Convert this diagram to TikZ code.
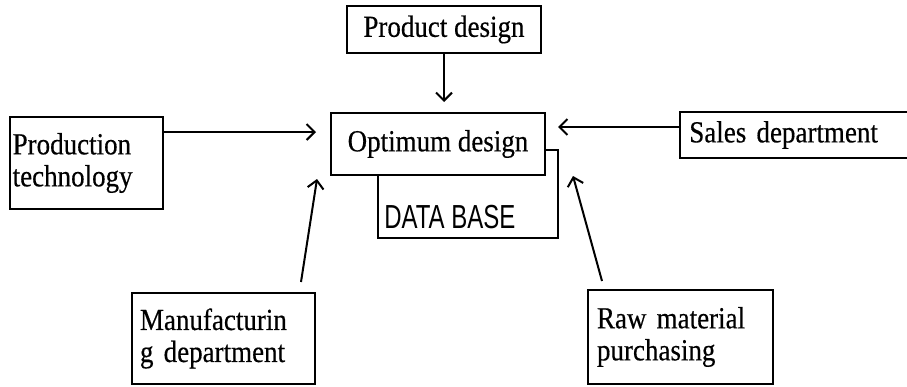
\documentclass[tikz,border=0pt]{standalone}
\usepackage{fontspec}
\setmainfont{Liberation Serif}[FakeStretch=0.88, FakeBold=0.4]
\newfontfamily\dbfont{Liberation Sans}[FakeStretch=0.72]
\usepackage{tikz}
\usetikzlibrary{arrows.meta, calc}
\tikzstyle{block} = [draw, rectangle, line width=1.5pt, inner xsep=5pt, inner ysep=2pt, align=left, font=\fontsize{23}{24}\selectfont]
\tikzstyle{dbbox} = [draw, rectangle, line width=1.5pt, minimum width=135pt, minimum height=66pt]
\tikzstyle{arrow} = [draw, -{Straight Barb[length=6pt,width=12pt]}, line width=1.5pt]

\begin{document}
\begin{tikzpicture}[x=0.75pt, y=-0.75pt]
    \useasboundingbox (0,0) rectangle (907,386);
    % data base sits behind the optimum design box
    \node (db) [dbbox] at (468,194) {};
    \node (dbtext) [anchor=base west, inner sep=0pt, font=\dbfont\fontsize{25}{25}\selectfont] at ([xshift=5.25pt, yshift=8.25pt]db.south west) {DATA BASE};
    \node (opt) [block, fill=white, align=center, minimum width=160.5pt, minimum height=46.5pt] at (438,144) {Optimum design};

    \node (prod) [block, align=center, minimum width=145.5pt, minimum height=35.25pt] at (444,29.5) {Product design};
    \node (prtech) [block, inner xsep=2pt, text width=110.75pt, minimum height=69pt] at (86.5,163) {Production\\technology};
    \node (sales) [block, inner xsep=7pt, text width=166pt, minimum height=34.5pt] at (800,135) {Sales department};
    \node (manuf) [block, inner xsep=6pt, text width=125.25pt, minimum height=68.25pt] at (223.5,338.5) {Manufacturin\\g department};
    \node (raw) [block, inner xsep=6.75pt, text width=125.25pt, minimum height=70.5pt] at (680.5,337) {Raw material\\purchasing};

    \draw [arrow] (prod.south) -- ($(prod.south |- opt.north)+(0,-10)$);
    \draw [arrow] ([yshift=23.25pt]prtech.east) -- ([yshift=9pt, xshift=-10.5pt]opt.west);
    \draw [arrow] ([yshift=6pt]sales.west) -- ([yshift=12.75pt, xshift=9pt]opt.east);
    \draw [arrow] ([xshift=-11.25pt, yshift=7.5pt]manuf.north east) -- ([xshift=-9.75pt, yshift=-2.25pt]opt.south west);
    \draw [arrow] ([xshift=11.25pt, yshift=6pt]raw.north west) -- ([xshift=20.25pt]opt.south east);
\end{tikzpicture}
\end{document}
